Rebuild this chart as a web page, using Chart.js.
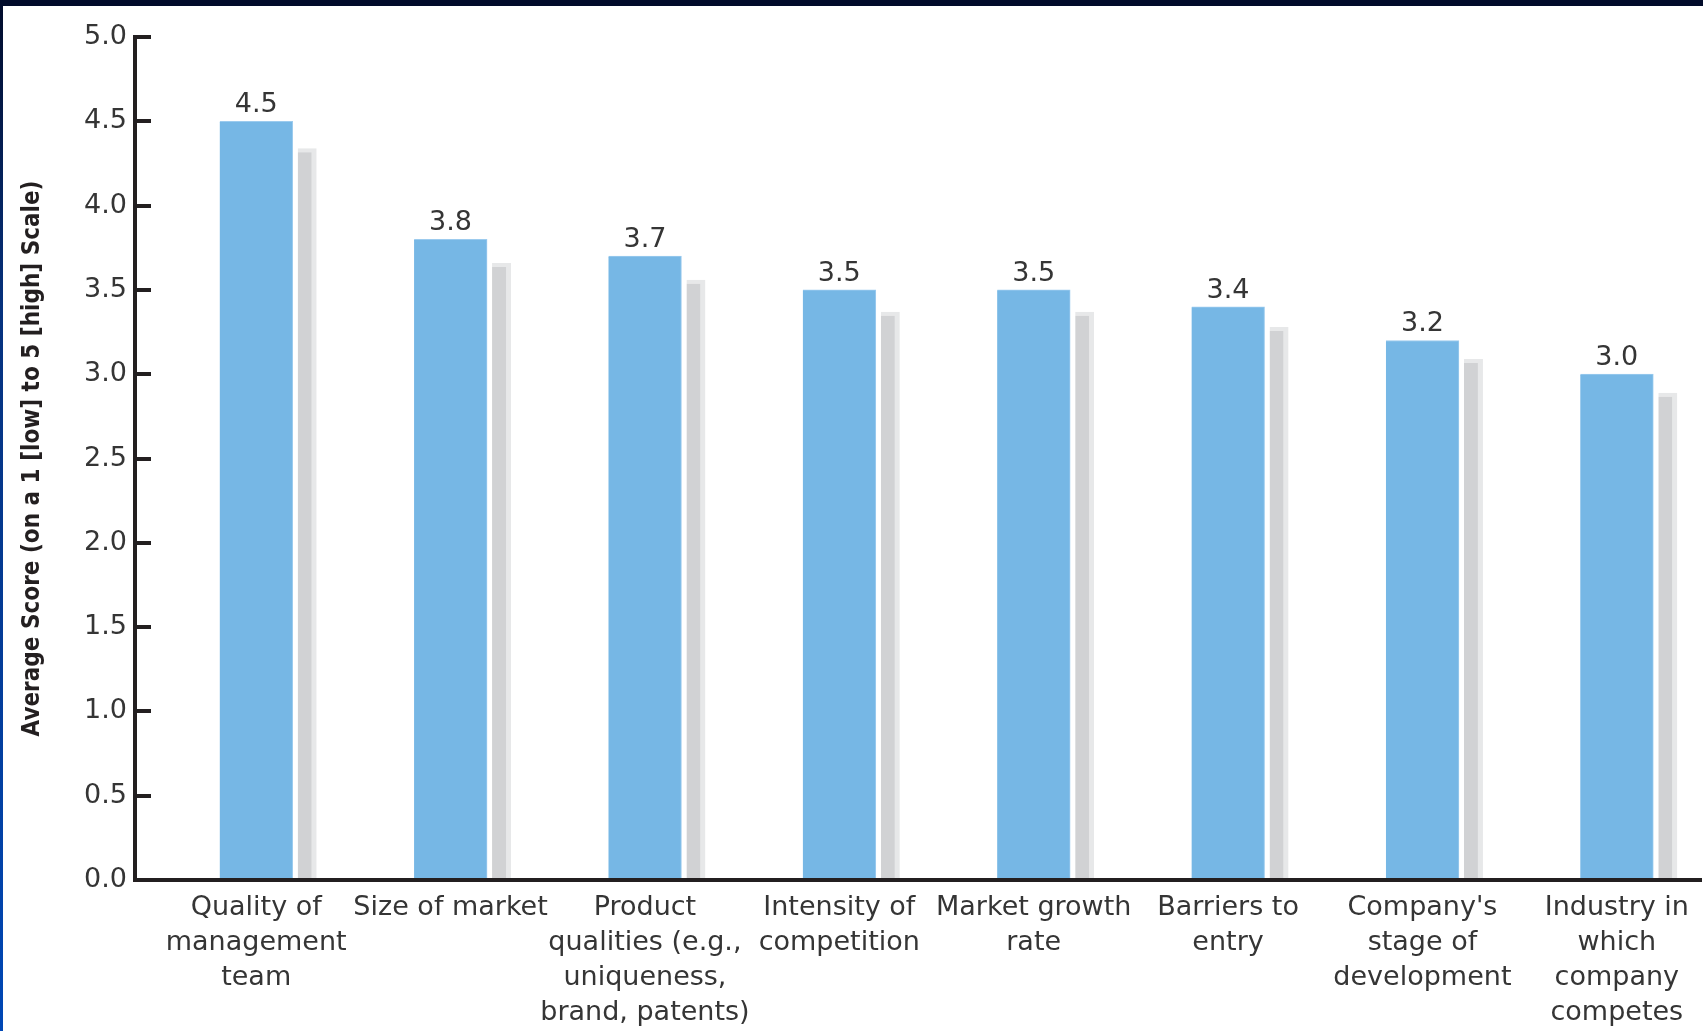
<!DOCTYPE html>
<html>
<head>
<meta charset="utf-8">
<script src="https://cdn.jsdelivr.net/npm/chart.js@4/dist/chart.umd.min.js"></script>
<style>
  html, body { margin: 0; padding: 0; background: #ffffff; overflow: hidden; }
  #wrap { position: relative; width: 1703px; height: 1031px; }
  #c { position: absolute; left: 0; top: 0; }
  #topband { position: absolute; left: 0; top: 0; width: 1703px; height: 6px; background: #010b2a; }
  #leftband { position: absolute; left: 0; top: 0; width: 3px; height: 1031px;
              background: linear-gradient(#010b2a, #06327e 30%, #0047b5); }
</style>
</head>
<body>
<div id="wrap">
  <canvas id="c" width="1703" height="1031"></canvas>
  <div id="topband"></div>
  <div id="leftband"></div>
</div>
<script>
// Factors ranked by average score
const categories = [
  ["Quality of", "management", "team"],
  ["Size of market"],
  ["Product", "qualities (e.g.,", "uniqueness,", "brand, patents)"],
  ["Intensity of", "competition"],
  ["Market growth", "rate"],
  ["Barriers to", "entry"],
  ["Company's", "stage of", "development"],
  ["Industry in", "which", "company", "competes"]
];
const scores = [4.5, 3.8, 3.7, 3.5, 3.5, 3.4, 3.2, 3.0];
// grey shadow bars drawn behind-right of each score bar
const shadowScores = [4.34, 3.66, 3.56, 3.37, 3.37, 3.28, 3.09, 2.89];
const yAxisTitle = "Average Score (on a 1 [low] to 5 [high] Scale)";

const TEXT = "#353535";
const INK = "#231f20";
const FONT = "'DejaVu Sans', sans-serif";

Chart.defaults.font.family = FONT;
Chart.defaults.color = TEXT;

// value printed above each blue bar
const valueLabels = {
  id: "valueLabels",
  afterDatasetsDraw(chart) {
    const meta = chart.getDatasetMeta(0);
    const ctx = chart.ctx;
    ctx.save();
    ctx.font = "27px " + FONT;
    ctx.fillStyle = TEXT;
    ctx.textAlign = "center";
    ctx.textBaseline = "alphabetic";
    meta.data.forEach((bar, i) => {
      ctx.fillText(scores[i].toFixed(1), bar.x, bar.y - 9);
    });
    ctx.restore();
  }
};

new Chart(document.getElementById("c"), {
  type: "bar",
  data: {
    datasets: [
      {
        data: scores.map((v, i) => ({ x: i, y: v })),
        backgroundColor: "#76b7e5",
        borderColor: "#9ccbee",
        borderWidth: { top: 1, right: 1, bottom: 0, left: 0 },
        borderSkipped: false,
        barThickness: 73
      },
      {
        data: shadowScores.map((v, i) => ({ x: i, y: v })),
        backgroundColor: "#d1d2d4",
        borderColor: "#e7e8e9",
        borderWidth: { top: 4, right: 5, bottom: 0, left: 0 },
        borderSkipped: false,
        categoryPercentage: 0.2984,
        barPercentage: 0.655
      }
    ]
  },
  options: {
    responsive: false,
    animation: false,
    layout: { padding: { top: 37, right: 2, bottom: 0, left: 0 } },
    plugins: { legend: { display: false }, tooltip: { enabled: false } },
    scales: {
      x: {
        type: "linear",
        bounds: "data",
        offset: false,
        min: -0.8113,
        max: 7.2454,
        afterBuildTicks(scale) {
          scale.ticks = categories.map((_, i) => ({ value: i }));
        },
        ticks: {
          autoSkip: false,
          maxRotation: 0,
          minRotation: 0,
          labelOffset: -36.5,
          padding: 10,
          color: TEXT,
          font: { family: FONT, size: 27, lineHeight: 1.3 },
          callback: (v) => categories[v]
        },
        grid: { display: false, offset: false, drawTicks: false, tickLength: 0 },
        border: { display: true, width: 4, color: INK },
        afterFit(scale) {
          scale.height = 151;
          scale.paddingLeft = 0;
          scale.paddingRight = 0;
        }
      },
      y: {
        min: 0,
        max: 5,
        ticks: {
          stepSize: 0.5,
          padding: 24,
          color: TEXT,
          font: { family: FONT, size: 27 },
          callback: (v) => Number(v).toFixed(1)
        },
        grid: {
          drawOnChartArea: false,
          drawTicks: true,
          tickLength: -16,
          lineWidth: 4,
          color: INK
        },
        border: { display: true, width: 4, color: INK },
        title: {
          display: true,
          text: yAxisTitle,
          color: INK,
          font: { family: "'DejaVu Sans Condensed', 'Liberation Sans Narrow', sans-serif", weight: "bold", size: 24, lineHeight: 1.2 },
          padding: { top: 18, bottom: 0 }
        },
        afterFit(scale) {
          scale.width = 135;
          scale.paddingTop = 0;
          scale.paddingBottom = 0;
        }
      }
    }
  },
  plugins: [valueLabels]
});
</script>
</body>
</html>
